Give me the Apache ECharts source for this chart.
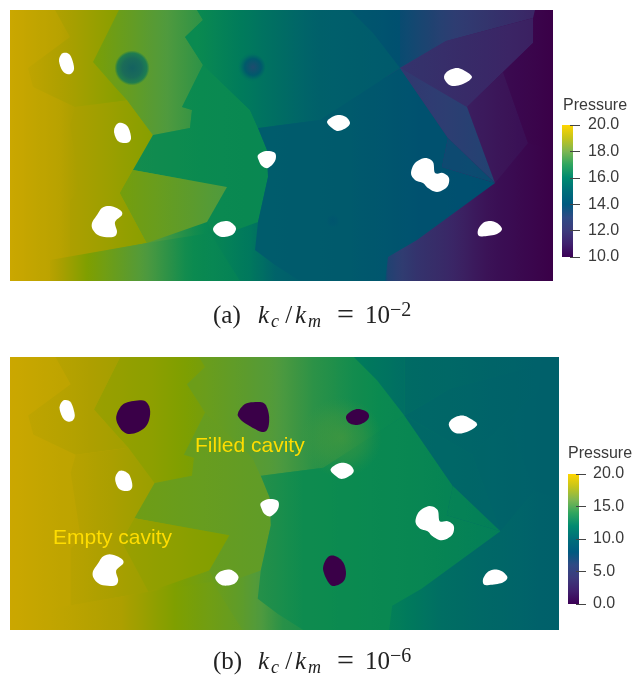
<!DOCTYPE html>
<html><head><meta charset="utf-8">
<style>html,body{margin:0;padding:0;background:#fff}#c{width:635px;height:678px;filter:blur(0.45px)}</style>
<script src="https://cdn.jsdelivr.net/npm/echarts@6/dist/echarts.min.js"></script>
</head><body><div id="c"></div>
<script>
// Field colours (fraction of the pressure range -> colour)
const fieldStops = [[0,'#3a0048'],[0.1,'#3b2565'],[0.2,'#2f3d72'],[0.3,'#004f70'],[0.45,'#00616a'],[0.55,'#007a5c'],[0.62,'#0a8a50'],[0.7,'#4f9a3e'],[0.8,'#7f9f00'],[0.9,'#ad9f00'],[1,'#d2a900']];
const barStops = [[0,'#3b0055'],[0.1,'#40206e'],[0.2,'#3d3a7c'],[0.3,'#2f4a85'],[0.4,'#005a80'],[0.5,'#006e7a'],[0.6,'#008a70'],[0.7,'#2fa55f'],[0.8,'#7db652'],[0.9,'#c4c41c'],[1,'#ffd500']];
// Zones of the fractured domain (shared by both panels): outline in domain units
const zones = [
 [[10,10],[553,10],[553,281],[10,281]],
 [[55,10],[70,37],[28,68],[33,87],[75,107],[127,100],[115,87],[93,62],[119,10]],
 [[75,107],[127,100],[153,135],[133,170],[120,193],[147,243],[70,257],[70,200],[80,190],[70,125]],
 [[119,10],[93,62],[115,87],[127,100],[153,135],[190,128],[192,110],[182,107],[203,65],[185,37],[203,20],[197,10]],
 [[203,65],[182,107],[192,110],[190,128],[153,135],[133,170],[227,187],[207,222],[213,233],[236,230],[258,222],[268,177],[267,150],[258,128],[250,110]],
 [[133,170],[227,187],[207,222],[147,243],[120,193]],
 [[50,260],[147,243],[210,233],[240,281],[50,281]],
 [[197,10],[203,20],[185,37],[203,65],[250,110],[258,128],[320,120],[400,68],[400,10]],
 [[258,128],[320,120],[400,68],[448,138],[442,167],[495,183],[417,240],[388,257],[385,281],[300,281],[275,265],[255,250],[258,222],[268,177],[267,150]],
 [[400,10],[535,10],[533,18],[446,41],[400,68]],
 [[400,68],[446,41],[533,18],[533,43],[503,72],[467,107]],
 [[503,72],[467,107],[495,183],[528,143]],
 [[535,10],[553,10],[553,150],[528,143],[503,72],[533,43]],
 [[400,68],[448,138],[495,183],[467,107]],
 [[448,138],[442,167],[495,183]],
 [[350,10],[400,10],[400,68],[373,33]]
];
// Pressure along each zone, as x, p, x, p ... pairs
const pressureA = [
 [10,19.8,30,19.6,60,19.3,110,18.2,140,17.3,195,16.3,250,15.4,275,14.6,300,14.2,380,14,388,12.3,417,11.6,487,10.5,553,10],
 [28,19.5,119,18.2],[70,19.0,150,18.2],[93,17.9,150,17.2,203,16.6],[133,16.3,268,16.1],[120,17.8,227,17.0],
 [50,19.3,87,18,140,17.1,185,16.3,240,15.8],[197,16.2,250,15.4,320,14.4,400,13.9],[258,14.1,350,13.9,420,13.2,495,13],
 [400,12.8,440,12.2,530,11.1],[400,11.6,530,10.9],[467,10.8,528,10.4],[503,10.3,553,10],[400,11.8,495,12.3],[442,12.7,495,12.8],[350,13.7,400,13.1]
];
const pressureB = [
 [10,19.6,60,19,120,18.4,173,16,240,14.6,258,14,280,13.1,320,12.6,353,12.4,403,11,437,10,553,8.8],
 [28,19,119,17.6],[70,18.6,150,17.2],[93,17.2,150,16.6,203,15.6],[133,15.3,268,14.7],[120,17.2,227,16.0],
 [50,19.1,120,18,173,16,240,14.8],[197,15.2,267,14.2,310,13.2,350,12.6,400,12.2],[258,13,300,12.5,353,12.4,430,12,495,11.4],
 [400,9.8,530,9],[400,9.6,530,9],[467,9.3,528,9],[503,9.1,553,8.8],[400,9.6,495,9.3],[442,11.8,495,11.4],[350,11.2,400,10]
];
// Empty cavities (white)
const emptyCavities = [
 [[59,60],[63,53],[70,55],[74,67],[72,73],[67,74],[62,70]],
 [[114,131],[117,124],[122,123],[128,127],[131,137],[129,142],[123,143],[117,140]],
 [[110,206],[120,210],[122,215],[115,222],[117,232],[113,237],[100,236],[93,230],[92,223],[97,215],[102,208]],
 [[213,229],[218,223],[227,221],[233,224],[236,229],[232,235],[223,237],[217,235]],
 [[258,155],[266,151],[275,153],[275,161],[268,168],[262,166],[259,161]],
 [[327,122],[332,117],[339,115],[346,117],[350,123],[346,128],[338,131],[332,128]],
 [[444,77],[448,71],[457,68],[465,71],[472,77],[465,83],[455,86],[448,84]],
 [[411,173],[415,163],[425,158],[433,162],[435,173],[443,173],[449,178],[447,187],[437,192],[428,188],[423,183],[415,180]],
 [[478,230],[483,223],[490,221],[497,223],[502,229],[497,234],[487,236],[479,236]]
];
// Filled cavities, k_c/k_m = 1e-6 (pressure 0)
const filledCavities = [
 [[115,69.6],[121,57.6],[132,53.7],[143.5,53.7],[148.5,62.6],[146.5,75.5],[138.6,83.5],[126.7,86.4],[118.8,80.5]],
 [[235.5,65.6],[242.4,56.7],[254.3,54.7],[262.2,56.7],[266.1,67.6],[265.2,80.5],[259.2,84.4],[245.4,77.5],[237.5,71.5]],
 [[342.3,69.6],[346.3,64.6],[354.2,61.6],[363.1,64.6],[365,69.6],[361.1,74.5],[353.2,77.5],[345.3,75.5]],
 [[319.6,219.4],[324.5,208.5],[331.4,207.5],[339.3,213.5],[342.3,224.4],[339.3,233.3],[329.5,237.3],[323.5,231.4]]
];
// Pressure spots around the cavities: x, y, diameter, centre p, middle p, rim p, rim opacity at 85%
const spotsA = [[132,68,35,13.3,13.9,15.0,.85],[253,67,30,12.2,13.0,15.2,.85],[333,221,16,13.4,13.6,13.9,.5]];
const spotsB = [[338,90,80,14.2,14.2,14.2,.1]];
const ticksA = {min:10,max:20,interval:2};
const ticksB = {min:0,max:20,interval:5};
const annotations = ['Filled cavity','Empty cavity'];

function hex(h){return [1,3,5].map(i=>parseInt(h.substr(i,2),16));}
function ramp(stops,t){
  t=Math.max(0,Math.min(1,t));
  for(let i=1;i<stops.length;i++){ if(t<=stops[i][0]){
    const a=stops[i-1],b=stops[i],f=(t-a[0])/(b[0]-a[0]),A=hex(a[1]),B=hex(b[1]);
    return A.map((v,k)=>Math.round(v+(B[k]-v)*f));
  }}
  return hex(stops[stops.length-1][1]);
}
const css=(c,a)=>a===undefined?`rgb(${c})`:`rgba(${c},${a})`;
// Rounds a cavity outline with a closed Catmull-Rom curve
function rounded(pts){
  const out=[],n=pts.length;
  for(let i=0;i<n;i++){
    const a=pts[(i+n-1)%n],b=pts[i],c=pts[(i+1)%n],d=pts[(i+2)%n];
    for(let s=0;s<6;s++){
      const t=s/6,t2=t*t,t3=t2*t;
      out.push([0,1].map(k=>.5*(2*b[k]+(c[k]-a[k])*t+(2*a[k]-5*b[k]+4*c[k]-d[k])*t2+(3*b[k]-a[k]-3*c[k]+d[k])*t3)));
    }
  }
  return out;
}

function zoneSeries(idx,pressures,rng){
  return {type:'custom',xAxisIndex:idx,yAxisIndex:idx,silent:true,z:2,clip:true,
    data:zones.map((_,i)=>[i]),
    renderItem(params,api){
      const i=api.value(0),pairs=pressures[i],pts=zones[i].map(p=>api.coord(p));
      const x0=api.coord([pairs[0],10])[0],x1=api.coord([pairs[pairs.length-2],10])[0];
      const X=pairs[pairs.length-2]-pairs[0],stops=[];
      for(let k=0;k+3<pairs.length;k+=2){
        for(let s=0;s<=6;s++){
          const f=s/6,xx=pairs[k]+(pairs[k+2]-pairs[k])*f,pp=pairs[k+1]+(pairs[k+3]-pairs[k+1])*f;
          stops.push({offset:(xx-pairs[0])/X,color:css(ramp(fieldStops,(pp-rng[0])/(rng[1]-rng[0])))});
        }
      }
      return {type:'polygon',shape:{points:pts},
        style:{fill:{type:'linear',x:x0,y:0,x2:x1,y2:0,global:true,colorStops:stops}}};
    }};
}
function blobSeries(idx,list,fill,z){
  return {type:'custom',xAxisIndex:idx,yAxisIndex:idx,silent:true,z,
    data:list.map((_,i)=>[i]),
    renderItem(params,api){
      return {type:'polygon',shape:{points:rounded(list[api.value(0)]).map(p=>api.coord(p))},style:{fill}};
    }};
}
function spotSeries(idx,list,rng,centreAlpha){
  const c=q=>ramp(fieldStops,(q-rng[0])/(rng[1]-rng[0]));
  return {type:'scatter',xAxisIndex:idx,yAxisIndex:idx,silent:true,z:3,data:list,
    symbolSize:v=>v[2],
    itemStyle:{color:p=>{
      const v=p.data;
      return {type:'radial',x:.5,y:.5,r:.5,colorStops:[
        {offset:0,color:css(c(v[3]),centreAlpha)},{offset:.55,color:css(c(v[4]),centreAlpha*(v[6]+1)/2)},
        {offset:.85,color:css(c(v[5]),v[6])},{offset:1,color:css(c(v[5]),0)}]};
    }}};
}
function barSeries(idx,t){
  return {type:'custom',xAxisIndex:idx,yAxisIndex:idx,silent:true,z:2,data:[[t.min,t.max]],
    renderItem(params,api){
      const a=api.coord([0,api.value(0)]),b=api.coord([0,api.value(1)]);
      return {type:'rect',shape:{x:b[0],y:b[1],width:11,height:a[1]-b[1]},
        style:{fill:{type:'linear',x:0,y:1,x2:0,y2:0,colorStops:barStops.map(s=>({offset:s[0],color:s[1]}))}}};
    }};
}
const domainX={type:'value',min:10,max:553,show:false};
const domainY={type:'value',min:10,max:281,inverse:true,show:false};
const barX={type:'value',min:0,max:1,show:false};
const barY=(t,m)=>({type:'value',min:t.min,max:t.max,interval:t.interval,position:'right',z:10,
  axisLine:{show:false,onZero:false},splitLine:{show:false},axisTick:{show:true,length:10,lineStyle:{color:'#444',width:1}},
  axisLabel:{margin:m,color:'#3a3a3a',fontFamily:'Liberation Sans',fontSize:16,formatter:v=>v.toFixed(1),showMinLabel:true,showMaxLabel:true}});
const serif={fontFamily:'Liberation Serif',fontWeight:'normal',color:'#222'};
const capRich={
  tag:{...serif,fontSize:25,width:45},
  k:{...serif,fontStyle:'italic',fontSize:25,width:13},
  c:{...serif,fontStyle:'italic',fontSize:18,width:8,verticalAlign:'bottom',padding:[8,0,0,0]},
  sl:{...serif,fontSize:25,width:16},
  m:{...serif,fontStyle:'italic',fontSize:18,width:29,verticalAlign:'bottom',padding:[8,0,0,0]},
  eq:{...serif,fontSize:30,width:28},
  ten:{...serif,fontSize:25,width:25},
  u:{...serif,fontSize:20,verticalAlign:'top',padding:[0,0,8,0]}
};
const caption=(tag,exp)=>`{tag|(${tag})}{k|k}{c|c}{sl| /}{k|k}{m|m}{eq|=}{ten|10}{u|\u2212${exp}}`;
const sideTitle={fontFamily:'Liberation Sans',fontSize:16,fontWeight:'normal',color:'#3a3a3a'};
const noteStyle={fontFamily:'Liberation Sans',fontSize:21,fontWeight:'normal',color:'#ffdd00'};
const opt={
  animation:false,backgroundColor:'#fff',
  grid:[
    {left:10,top:10,width:543,height:271},
    {left:10,top:357,width:549,height:273},
    {left:562,top:125,width:8,height:132},
    {left:568,top:474,width:8,height:130}
  ],
  xAxis:[{...domainX,gridIndex:0},{...domainX,gridIndex:1},{...barX,gridIndex:2},{...barX,gridIndex:3}],
  yAxis:[{...domainY,gridIndex:0},{...domainY,gridIndex:1},{...barY(ticksA,18),gridIndex:2},{...barY(ticksB,17),gridIndex:3}],
  title:[
    {text:caption('a',2),left:213,top:301,padding:0,textStyle:{rich:capRich}},
    {text:caption('b',6),left:213,top:647,padding:0,textStyle:{rich:capRich}},
    {text:'Pressure',left:563,top:98,textStyle:sideTitle,padding:0},
    {text:'Pressure',left:568,top:446,textStyle:sideTitle,padding:0},
    {text:annotations[0],left:195,top:436,padding:0,z:20,textStyle:noteStyle},
    {text:annotations[1],left:53,top:528,padding:0,z:20,textStyle:noteStyle}
  ],
  series:[
    zoneSeries(0,pressureA,[10,20]),
    zoneSeries(1,pressureB,[0,20]),
    spotSeries(0,spotsA,[10,20],1),
    spotSeries(1,spotsB,[0,20],.7),
    blobSeries(0,emptyCavities,'#fff',4),
    blobSeries(1,emptyCavities,'#fff',4),
    blobSeries(1,filledCavities,css(ramp(fieldStops,0)),4),
    barSeries(2,ticksA),
    barSeries(3,ticksB)
  ]
};
echarts.init(document.getElementById('c'),null,{renderer:'canvas'}).setOption(opt);
</script></body></html>
